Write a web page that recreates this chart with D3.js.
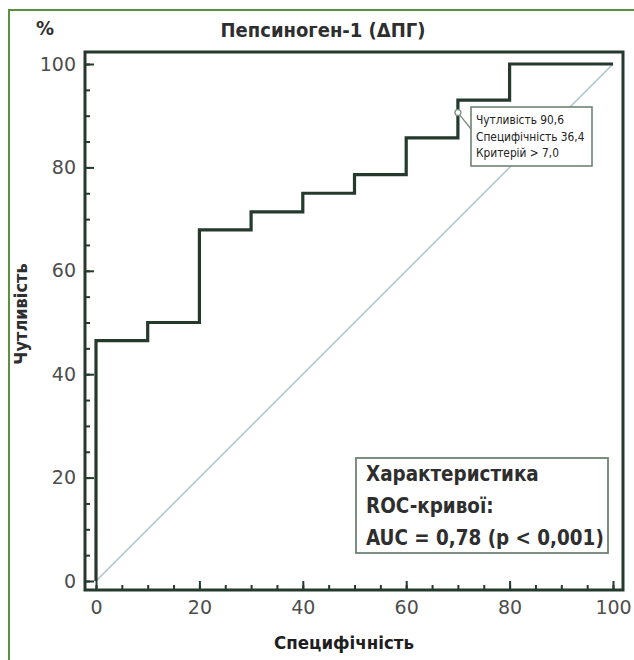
<!DOCTYPE html>
<html>
<head>
<meta charset="utf-8">
<script src="https://cdn.jsdelivr.net/npm/d3@7"></script>
<style>
  body { margin: 0; background: #fff; }
  svg { display: block; }
</style>
</head>
<body>
<div id="chart"></div>
<script>
// ROC curve points (step after)
const specificity = [0, 0, 10, 20, 30, 40, 50, 60, 70, 80, 100]
const sensitivity = [0, 46.5, 50, 67.9, 71.4, 75, 78.6, 85.7, 93, 100, 100]
const majorTicks = [0, 20, 40, 60, 80, 100]
const cutPoint = {x: 70, y: 90.6}
const cutLines = ['Чутливість 90,6', 'Специфічність 36,4', 'Критерій > 7,0']
const aucLines = ['Характеристика', 'ROC-кривої:', 'AUC = 0,78 (p < 0,001)']

const W = 634, H = 660
const frame = {left: 85, right: 623, top: 52, bottom: 590}

const svg = d3.select('#chart').append('svg')
  .attr('width', W).attr('height', H)

// outer green border
svg.append('rect')
  .attr('x', 9).attr('y', 10)
  .attr('width', W + 20).attr('height', H + 20)
  .attr('fill', 'none')
  .attr('stroke', '#5e8f3e')
  .attr('stroke-width', 2)

const x = d3.scaleLinear().domain([0, 100]).range([96, 613])
const y = d3.scaleLinear().domain([0, 100]).range([581, 64])

const font = 'DejaVu Sans'
const cond = "'DejaVu Sans Condensed', sans-serif"
const dark = '#25392c'

// diagonal
svg.append('line')
  .attr('x1', x(0)).attr('y1', y(0))
  .attr('x2', x(100)).attr('y2', y(100))
  .attr('stroke', '#a9c2c8')
  .attr('stroke-width', 1.4)

// axes: ticks pointing inwards from the frame
const minor = d3.range(0, 101, 5)

svg.append('g')
  .attr('transform', `translate(${frame.left},0)`)
  .call(d3.axisLeft(y).tickValues(minor).tickSize(-5).tickFormat(''))
svg.append('g')
  .attr('transform', `translate(${frame.left},0)`)
  .call(d3.axisLeft(y).tickValues(majorTicks).tickSize(-9).tickPadding(9).tickFormat(d3.format('d')))

svg.append('g')
  .attr('transform', `translate(0,${frame.bottom})`)
  .call(d3.axisBottom(x).tickValues(minor).tickSize(-5).tickFormat(''))
svg.append('g')
  .attr('transform', `translate(0,${frame.bottom})`)
  .call(d3.axisBottom(x).tickValues(majorTicks).tickSize(-9).tickPadding(11).tickFormat(d3.format('d')))

svg.selectAll('.domain').remove()
svg.selectAll('.tick line').attr('stroke', dark).attr('stroke-width', 2)
svg.selectAll('.tick text')
  .attr('fill', '#4d4d4d')
  .style('font-family', font)
  .style('font-size', '19px')

// frame
svg.append('rect')
  .attr('x', frame.left).attr('y', frame.top)
  .attr('width', frame.right - frame.left)
  .attr('height', frame.bottom - frame.top)
  .attr('fill', 'none')
  .attr('stroke', dark)
  .attr('stroke-width', 3)

// ROC curve
const pts = specificity.map((s, i) => [s, sensitivity[i]])
const line = d3.line()
  .x(d => x(d[0]))
  .y(d => y(d[1]))
  .curve(d3.curveStepAfter)

svg.append('path')
  .datum(pts)
  .attr('d', line)
  .attr('fill', 'none')
  .attr('stroke', dark)
  .attr('stroke-width', 3.2)

// cut point annotation
const box1 = {x: 471, y: 107, w: 121, h: 59}
svg.append('line')
  .attr('x1', x(cutPoint.x)).attr('y1', y(cutPoint.y))
  .attr('x2', box1.x).attr('y2', 129)
  .attr('stroke', '#7d8f80').attr('stroke-width', 1.3)
svg.append('rect')
  .attr('x', box1.x).attr('y', box1.y)
  .attr('width', box1.w).attr('height', box1.h)
  .attr('fill', '#fff')
  .attr('stroke', '#6f8373')
  .attr('stroke-width', 1.6)
svg.append('circle')
  .attr('cx', x(cutPoint.x)).attr('cy', y(cutPoint.y))
  .attr('r', 3)
  .attr('fill', '#fff')
  .attr('stroke', '#7d8f80')
  .attr('stroke-width', 1.3)
svg.append('g').selectAll('text')
  .data(cutLines).enter().append('text')
  .attr('x', box1.x + 5)
  .attr('y', (d, i) => box1.y + 17 + i * 16.5)
  .attr('fill', '#222')
  .style('font-family', cond)
  .style('font-size', '11.8px')
  .text(d => d)

// AUC box
const box2 = {x: 356, y: 458, w: 252, h: 95}
svg.append('rect')
  .attr('x', box2.x).attr('y', box2.y)
  .attr('width', box2.w).attr('height', box2.h)
  .attr('fill', '#fff')
  .attr('stroke', '#6f8373')
  .attr('stroke-width', 1.8)
svg.append('g').selectAll('text')
  .data(aucLines).enter().append('text')
  .attr('x', box2.x + 10)
  .attr('y', (d, i) => box2.y + 23 + i * 32)
  .attr('fill', '#2e2e2e')
  .style('font-family', cond)
  .style('font-size', '20.4px')
  .style('font-weight', 'bold')
  .text(d => d)

// titles
svg.append('text')
  .attr('x', 323).attr('y', 37)
  .attr('text-anchor', 'middle')
  .attr('fill', '#2e2e2e')
  .style('font-family', cond)
  .style('font-size', '20px')
  .style('font-weight', 'bold')
  .text('Пепсиноген-1 (ΔПГ)')

svg.append('text')
  .attr('x', 45).attr('y', 35)
  .attr('text-anchor', 'middle')
  .attr('fill', '#2e2e2e')
  .style('font-family', cond)
  .style('font-size', '20px')
  .style('font-weight', 'bold')
  .text('%')

svg.append('text')
  .attr('x', 344).attr('y', 649)
  .attr('text-anchor', 'middle')
  .attr('fill', '#1e1e1e')
  .style('font-family', cond)
  .style('font-size', '18.5px')
  .style('font-weight', '600')
  .text('Специфічність')

svg.append('text')
  .attr('transform', 'translate(27,314) rotate(-90)')
  .attr('text-anchor', 'middle')
  .attr('fill', '#2e2e2e')
  .style('font-family', cond)
  .style('font-size', '18px')
  .style('font-weight', 'bold')
  .text('Чутливість')
</script>
</body>
</html>
